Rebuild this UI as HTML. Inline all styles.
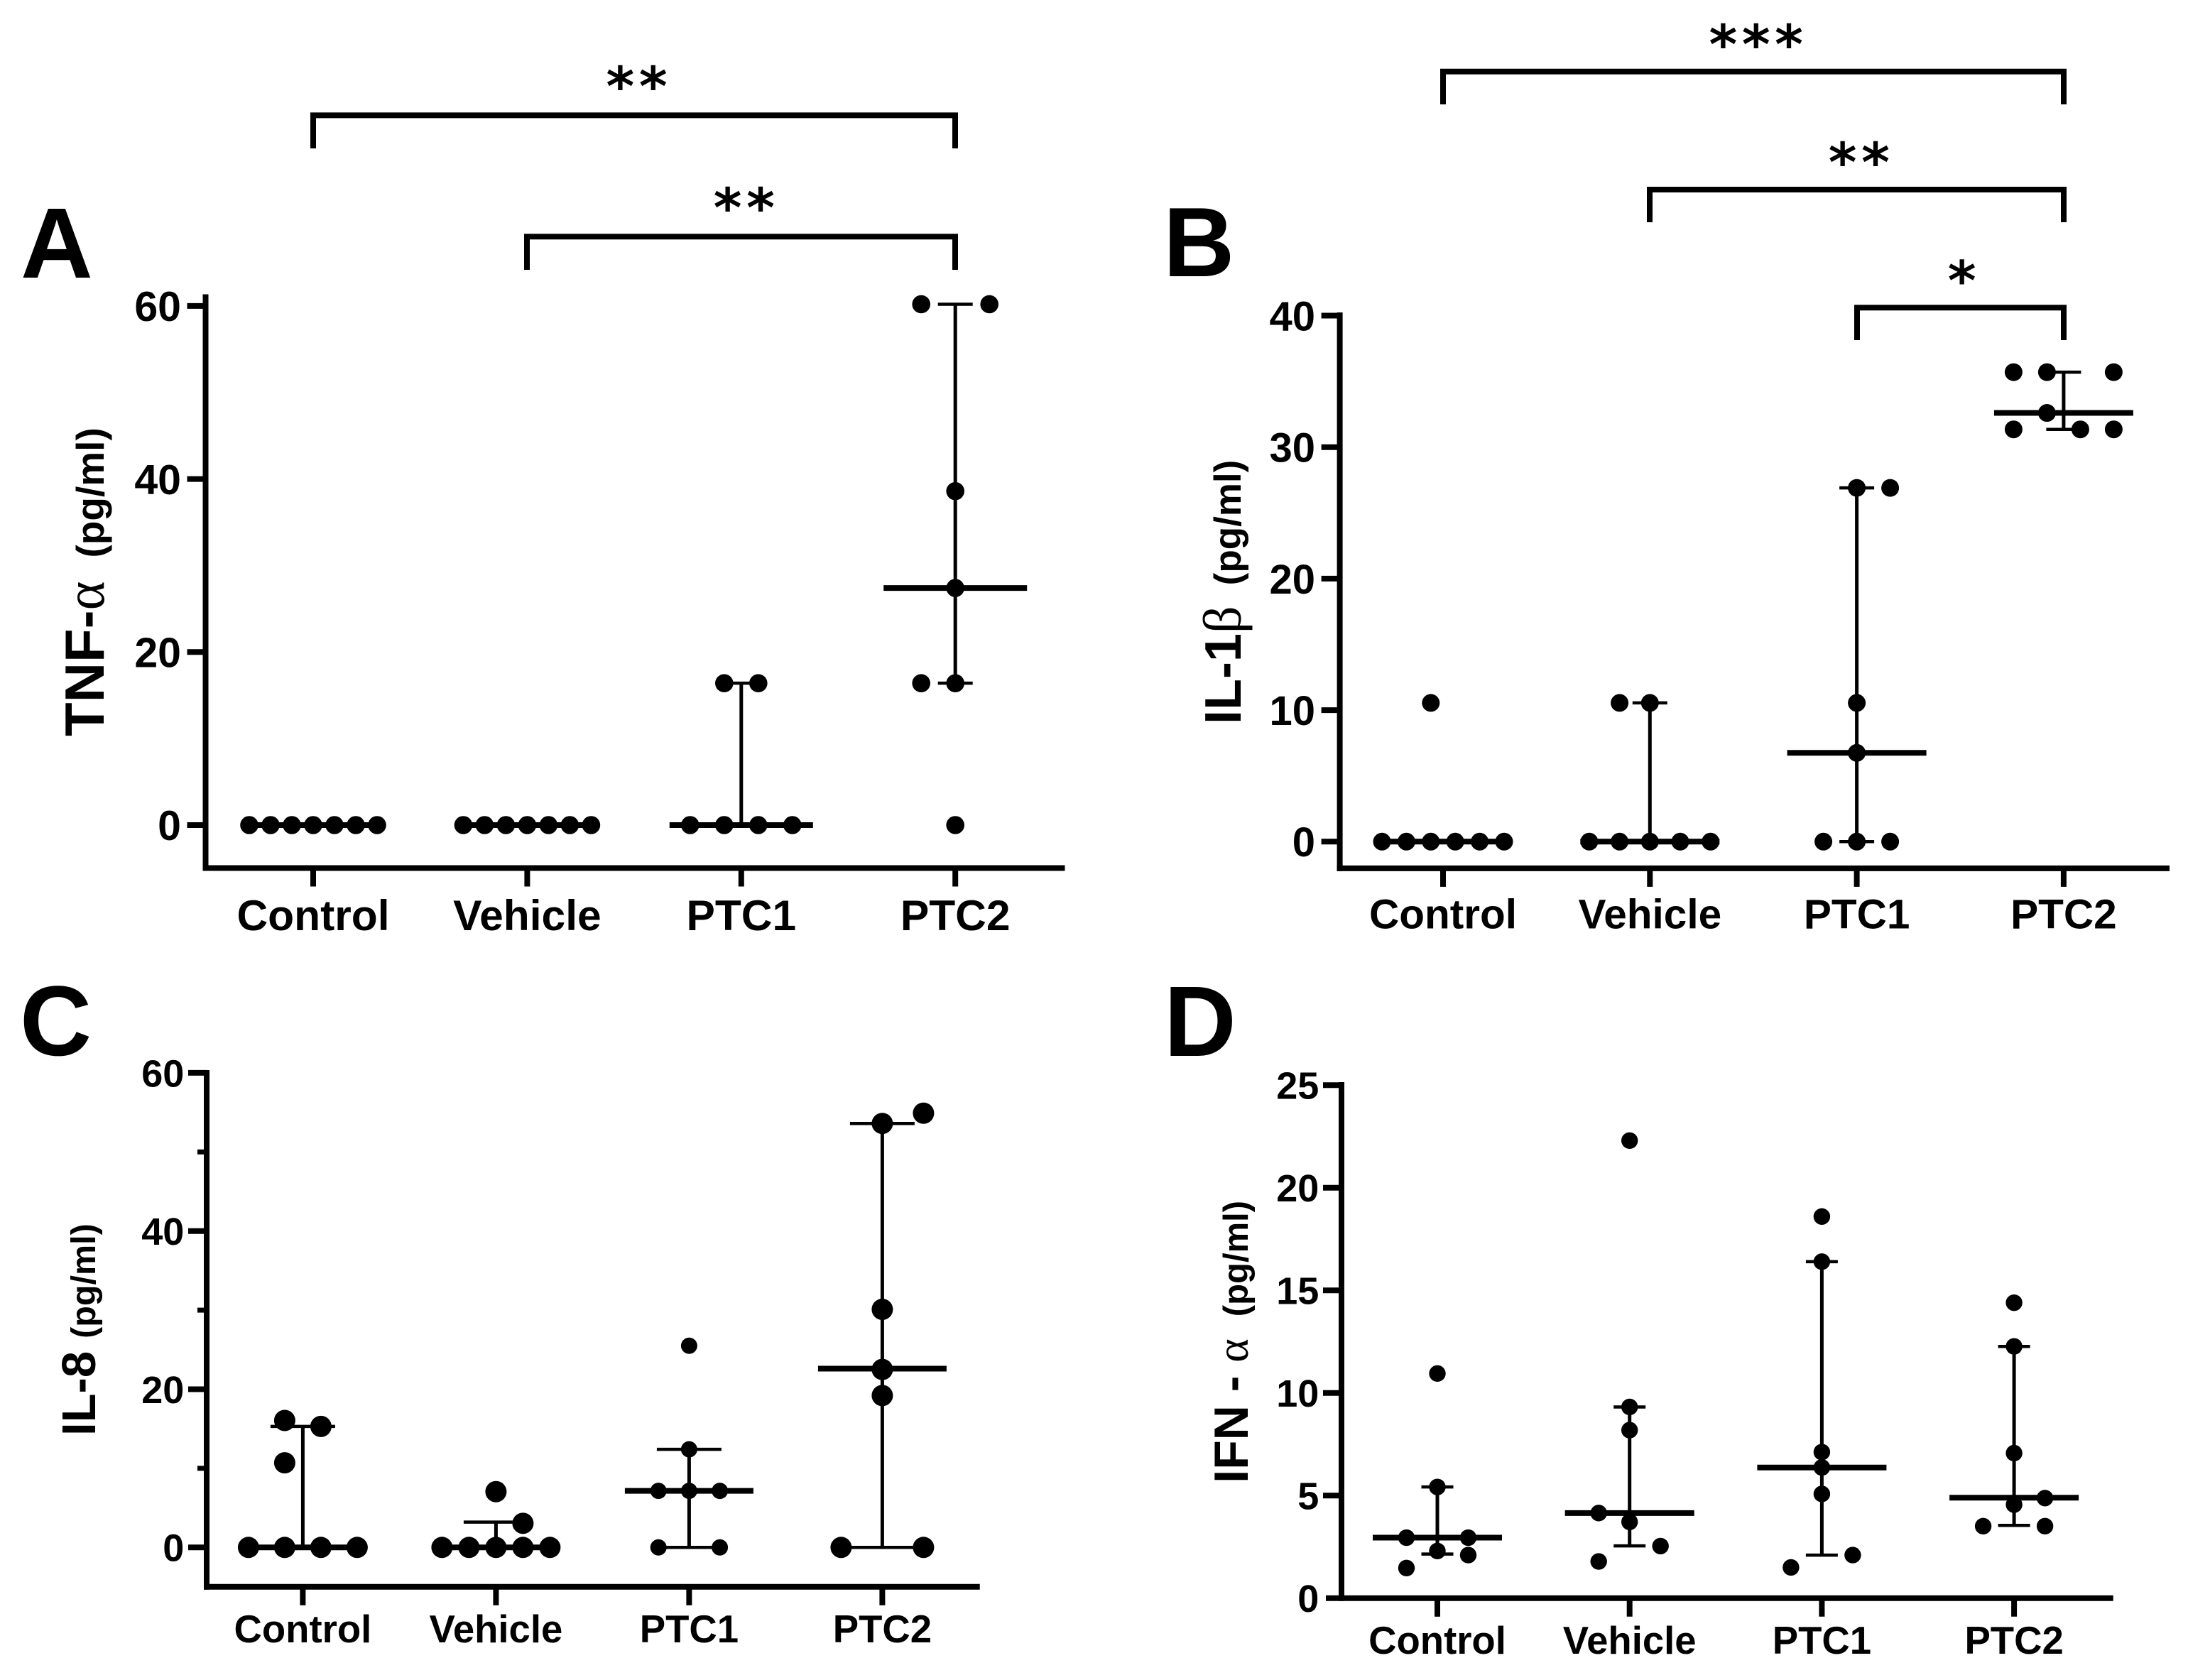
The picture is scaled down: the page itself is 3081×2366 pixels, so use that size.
<!DOCTYPE html>
<html lang="en">
<head>
<meta charset="utf-8">
<title>Cytokine levels by treatment group</title>
<style>
html,body{margin:0;padding:0;background:#fff;}
svg{display:block;}
text{font-family:"Liberation Sans",sans-serif;font-weight:700;fill:#000;}
.greek{font-family:"Liberation Serif",serif;font-weight:400;}
.star{font-family:"DejaVu Sans",sans-serif;font-weight:700;letter-spacing:6.6px;}
</style>
</head>
<body>
<svg id="figure" xmlns="http://www.w3.org/2000/svg" width="3081" height="2366" viewBox="0 0 3081 2366">
  <rect x="0" y="0" width="3081" height="2366" fill="#fff"/>

  <text x="29" y="391" font-size="141">A</text>
  <text x="1638" y="389" font-size="139">B</text>
  <text x="28" y="1486" font-size="140">C</text>
  <text x="1639" y="1487" font-size="141">D</text>

  <text transform="translate(146,1037) rotate(-90)" font-size="78">TNF-<tspan class="greek">α</tspan><tspan dx="33" font-size="55">(pg/ml)</tspan></text>
  <text transform="translate(1747,1020) rotate(-90)" font-size="72">IL-1<tspan class="greek" font-size="76">β</tspan><tspan dx="29" font-size="53">(pg/ml)</tspan></text>
  <text transform="translate(134,2022) rotate(-90)" font-size="67">IL-8<tspan dx="18" font-size="48.5">(pg/ml)</tspan></text>
  <text transform="translate(1757,2088.700) rotate(-90)" font-size="68" xml:space="preserve">IFN - <tspan class="greek" font-size="64">α</tspan><tspan dx="31" font-size="49">(pg/ml)</tspan></text>

  <g fill="none" stroke="#000" stroke-width="8">
    <path d="M441 209V162.400H1345V209"/>
    <path d="M742 380V333.300H1345V380"/>
  </g>
  <g fill="none" stroke="#000" stroke-width="8">
    <path d="M2032 147V100.800H2906V147"/>
    <path d="M2323 313V267H2906V313"/>
    <path d="M2615 479V433.300H2906V479"/>
  </g>
  <g font-size="76" text-anchor="middle">
    <text class="star" x="899.900" y="148">**</text>
    <text class="star" x="1051.100" y="319">**</text>
    <text class="star" x="2476" y="89">***</text>
    <text class="star" x="2621.100" y="255">**</text>
    <text class="star" x="2765.900" y="421.500">*</text>
  </g>
</svg>

<script>
const categories = ['Control', 'Vehicle', 'PTC1', 'PTC2'];

/* Panel A: TNF-alpha */
const aTicks = [0, 20, 40, 60];
const aControl = [0, 0, 0, 0, 0, 0, 0];
const aControlSlots = [-3, -2, -1, 0, 1, 2, 3];
const aVehicle = [0, 0, 0, 0, 0, 0, 0];
const aVehicleSlots = [-3, -2, -1, 0, 1, 2, 3];
const aPtc1 = [16.4, 16.4, 0, 0, 0, 0];
const aPtc1Slots = [-0.5, 0.5, -1.5, -0.5, 0.5, 1.5];
const aPtc2 = [60.2, 60.2, 38.6, 27.4, 16.4, 16.4, 0];
const aPtc2Slots = [-1, 1, 0, 0, -1, 0, 0];
const aMedians = [0, 0, 0, 27.4];
const aLows = [0, 0, 0, 16.4];
const aHighs = [0, 0, 16.4, 60.2];

/* Panel B: IL-1 beta */
const bTicks = [0, 10, 20, 30, 40];
const bControl = [10.55, 0, 0, 0, 0, 0, 0];
const bControlSlots = [-0.5, -2.5, -1.5, -0.5, 0.5, 1.5, 2.5];
const bVehicle = [10.55, 10.55, 0, 0, 0, 0, 0];
const bVehicleSlots = [-1, 0, -2, -1, 0, 1, 2];
const bPtc1 = [26.9, 26.9, 10.55, 6.75, 0, 0, 0];
const bPtc1Slots = [0, 1, 0, 0, -1, 0, 1];
const bPtc2 = [35.7, 35.7, 35.7, 32.6, 31.35, 31.35, 31.35];
const bPtc2Slots = [-1.5, -0.5, 1.5, -0.5, -1.5, 0.5, 1.5];
const bMedians = [0, 0, 6.75, 32.6];
const bLows = [0, 0, 0, 31.35];
const bHighs = [0, 10.55, 26.9, 35.7];

/* Panel C: IL-8 */
const cTicks = [0, 20, 40, 60];
const cMinorTicks = [10, 30, 50];
const cControl = [16.05, 15.3, 10.7, 0, 0, 0, 0];
const cControlSlots = [-0.5, 0.5, -0.5, -1.5, -0.5, 0.5, 1.5];
const cVehicle = [7.05, 3.05, 0, 0, 0, 0, 0];
const cVehicleSlots = [0, 1, -2, -1, 0, 1, 2];
const cPtc1 = [25.5, 12.4, 7.15, 7.15, 7.15, 0, 0];
const cPtc1Slots = [0, 0, -1, 0, 1, -1, 1];
const cPtc2 = [54.9, 53.6, 30.1, 22.5, 19.2, 0, 0];
const cPtc2Slots = [1, 0, 0, 0, 0, -1, 1];
const cMedians = [0, 0, 7.15, 22.6];
const cLows = [0, 0, 0, 0];
const cHighs = [15.3, 3.2, 12.4, 53.6];

/* Panel D: IFN-alpha */
const dTicks = [0, 5, 10, 15, 20, 25];
const dControl = [10.95, 5.42, 2.95, 2.95, 2.3, 2.1, 1.47];
const dControlSlots = [0, 0, -1, 1, 0, 1, -1];
const dVehicle = [22.3, 9.32, 8.19, 4.15, 3.72, 2.54, 1.79];
const dVehicleSlots = [0, 0, 0, -1, 0, 1, -1];
const dPtc1 = [18.6, 16.4, 7.12, 6.37, 5.08, 2.1, 1.5];
const dPtc1Slots = [0, 0, 0, 0, 0, 1, -1];
const dPtc2 = [14.4, 12.27, 7.07, 4.88, 4.56, 3.51, 3.51];
const dPtc2Slots = [0, 0, 0, 1, 0, -1, 1];
const dMedians = [2.95, 4.15, 6.37, 4.9];
const dLows = [2.15, 2.55, 2.1, 3.55];
const dHighs = [5.42, 9.32, 16.4, 12.27];

const NS = 'http://www.w3.org/2000/svg';
const svg = document.getElementById('figure');

function make(parent, tag, attrs, name, label) {
  const el = document.createElementNS(NS, tag);
  for (const key in attrs) el.setAttribute(key, attrs[key]);
  
  
  if (label !== undefined) el.textContent = label;
  parent.appendChild(el);
  return el;
}

function line(parent, x1, y1, x2, y2, width, name) {
  return make(parent, 'line', { x1: x1, y1: y1, x2: x2, y2: y2, stroke: '#000', 'stroke-width': width }, name);
}

function drawPanel(cfg) {
  const g = make(svg, 'g', {}, 'panel-' + cfg.id);
  const yScale = function (v) { return cfg.y0 - v * cfg.unit; };
  const xScale = function (i) { return cfg.x0 + i * cfg.xStep; };

  /* axes */
  line(g, cfg.axisX, cfg.axisTop, cfg.axisX, cfg.axisY + 4, 8, 'y-axis-' + cfg.id);
  line(g, cfg.xAxisLeft, cfg.axisY, cfg.axisRight, cfg.axisY, 8, 'x-axis-' + cfg.id);

  /* y ticks and labels */
  cfg.ticks.forEach(function (t) {
    const y = yScale(t);
    if (y < cfg.axisY - 4) line(g, cfg.axisX - 26, y, cfg.axisX, y, 8, 'y-tick-' + cfg.id + '-' + t);
    make(g, 'text', { x: cfg.tickRight, y: y + cfg.tickFont * 0.36, 'font-size': cfg.tickFont, 'text-anchor': 'end' }, 'y-tick-label-' + cfg.id + '-' + t, String(t));
  });
  (cfg.minor || []).forEach(function (t) {
    const y = yScale(t);
    line(g, cfg.axisX - 13, y, cfg.axisX, y, 7, 'y-minor-tick-' + cfg.id + '-' + t);
  });

  /* groups */
  categories.forEach(function (cat, i) {
    const cx = xScale(i);
    const key = cat.toLowerCase();
    line(g, cx, cfg.axisY, cx, cfg.axisY + 26, 8, 'x-tick-' + cfg.id + '-' + key);
    make(g, 'text', { x: cx, y: cfg.labelY, 'font-size': cfg.labelFont, 'text-anchor': 'middle' }, 'x-tick-label-' + cfg.id + '-' + key, cat);

    const group = make(g, 'g', {}, 'group-' + cfg.id + '-' + key);
    const hi = yScale(cfg.highs[i]);
    const lo = yScale(cfg.lows[i]);
    const med = yScale(cfg.medians[i]);
    if (cfg.highs[i] !== cfg.lows[i]) {
      line(group, cx, hi, cx, lo, 5, 'error-bar-' + cfg.id + '-' + key);
      line(group, cx - cfg.capHalf, hi, cx + cfg.capHalf, hi, 4.5, 'error-cap-high-' + cfg.id + '-' + key);
      line(group, cx - cfg.capHalf, lo, cx + cfg.capHalf, lo, 4.5, 'error-cap-low-' + cfg.id + '-' + key);
    }
    line(group, cx - cfg.medianHalf, med, cx + cfg.medianHalf, med, 8, 'median-' + cfg.id + '-' + key);

    const values = cfg.series[i];
    const slots = cfg.slots[i];
    values.forEach(function (v, n) {
      make(group, 'circle', { cx: cx + slots[n] * cfg.steps[i], cy: yScale(v), r: cfg.radii[i], fill: '#000' }, 'point-' + cfg.id + '-' + key + '-' + n);
    });
  });
}

drawPanel({
  id: 'a', x0: 441, xStep: 301.4, y0: 1162, unit: 12.185,
  axisX: 289.5, xAxisLeft: 285.5, axisY: 1222.5, axisTop: 414.5, axisRight: 1499.5,
  tickRight: 255, tickFont: 59, labelY: 1310, labelFont: 60.5,
  capHalf: 24.5, medianHalf: 101, steps: [30, 30, 48, 48], radii: [12.8, 12.8, 12.8, 12.8],
  ticks: aTicks,
  series: [aControl, aVehicle, aPtc1, aPtc2],
  slots: [aControlSlots, aVehicleSlots, aPtc1Slots, aPtc2Slots],
  medians: aMedians, lows: aLows, highs: aHighs
});

drawPanel({
  id: 'b', x0: 2032, xStep: 291.3, y0: 1185.3, unit: 18.52,
  axisX: 1886.6, xAxisLeft: 1882.6, axisY: 1222.9, axisTop: 440, axisRight: 3055,
  tickRight: 1852, tickFont: 58, labelY: 1307.5, labelFont: 58.5,
  capHalf: 24.5, medianHalf: 98, steps: [34.4, 42.7, 47, 47], radii: [12.5, 12.5, 12.5, 12.5],
  ticks: bTicks,
  series: [bControl, bVehicle, bPtc1, bPtc2],
  slots: [bControlSlots, bVehicleSlots, bPtc1Slots, bPtc2Slots],
  medians: bMedians, lows: bLows, highs: bHighs
});

drawPanel({
  id: 'c', x0: 426.4, xStep: 272, y0: 2179.3, unit: 11.14,
  axisX: 291, xAxisLeft: 287, axisY: 2234.8, axisTop: 1507, axisRight: 1379.7,
  tickRight: 259.3, tickFont: 54, labelY: 2313, labelFont: 54.5,
  capHalf: 45.5, medianHalf: 90.5, steps: [51, 38, 43.2, 58], radii: [15, 15, 11.5, 15],
  ticks: cTicks, minor: cMinorTicks,
  series: [cControl, cVehicle, cPtc1, cPtc2],
  slots: [cControlSlots, cVehicleSlots, cPtc1Slots, cPtc2Slots],
  medians: cMedians, lows: cLows, highs: cHighs
});

drawPanel({
  id: 'd', x0: 2024, xStep: 270.7, y0: 2250.8, unit: 28.9,
  axisX: 1889, xAxisLeft: 1867, axisY: 2250.8, axisTop: 1524, axisRight: 2975.7,
  tickRight: 1857.3, tickFont: 54, labelY: 2329, labelFont: 54.5,
  capHalf: 22.5, medianHalf: 91, steps: [43.5, 43.5, 43.5, 43.5], radii: [11.7, 11.7, 11.7, 11.7],
  ticks: dTicks,
  series: [dControl, dVehicle, dPtc1, dPtc2],
  slots: [dControlSlots, dVehicleSlots, dPtc1Slots, dPtc2Slots],
  medians: dMedians, lows: dLows, highs: dHighs
});
</script>
</body>
</html>
